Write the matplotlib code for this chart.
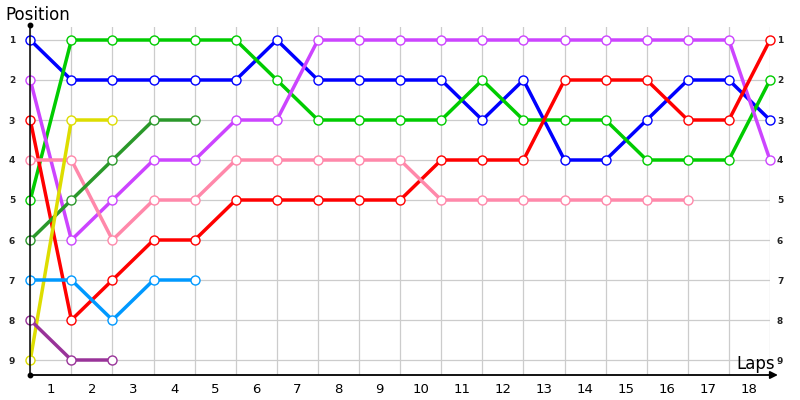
import matplotlib
matplotlib.use("Agg")
import matplotlib.pyplot as plt
import numpy as np

laps = list(range(19))
lap_labels = [str(i) for i in range(1, 19)]
positions = list(range(1, 10))

series = [
    ("#0000FF", [1, 2, 2, 2, 2, 2, 1, 2, 2, 2, 2, 3, 2, 4, 4, 3, 2, 2, 3]),
    ("#00CC00", [5, 1, 1, 1, 1, 1, 2, 3, 3, 3, 3, 2, 3, 3, 3, 4, 4, 4, 2]),
    ("#CC44FF", [2, 6, 5, 4, 4, 3, 3, 1, 1, 1, 1, 1, 1, 1, 1, 1, 1, 1, 4]),
    ("#FF0000", [3, 8, 7, 6, 6, 5, 5, 5, 5, 5, 4, 4, 4, 2, 2, 2, 3, 3, 1]),
    ("#FF88AA", [4, 4, 6, 5, 5, 4, 4, 4, 4, 4, 5, 5, 5, 5, 5, 5, 5]),
    ("#2A982A", [6, 5, 4, 3, 3]),
    ("#DDDD00", [9, 3, 3]),
    ("#0099FF", [7, 7, 8, 7, 7]),
    ("#993399", [8, 9, 9]),
]

W, H = 800, 400
fig = plt.figure(figsize=(8, 4), dpi=100)
x0, x1 = 30.3, 770.0
ytop, ybot = 27.0, 375.0
ax = fig.add_axes([x0 / W, 1 - ybot / H, (x1 - x0) / W, (ybot - ytop) / H])
ax.set_xlim(0, 18)
# pixel y = 40 + (pos-1)*40
ax.set_ylim((ybot - 40) / 40 + 1, (ytop - 40) / 40 + 1)

for s in ["top", "right", "left", "bottom"]:
    ax.spines[s].set_visible(False)

ax.set_xticks(laps, minor=True)
ax.set_xticks(np.arange(18) + 0.5)
ax.set_xticklabels(lap_labels, fontsize=9.5, family="DejaVu Sans")
ax.tick_params(axis="x", which="both", length=0, pad=6)
ax.set_yticks(positions)
ax.set_yticklabels([str(p) for p in positions], fontsize=6.5, fontweight="bold", color="#222222")
ax.tick_params(axis="y", length=0, pad=11)
ax.grid(True, which="minor", axis="x", color="#CCCCCC", linewidth=0.9)
ax.grid(True, which="major", axis="y", color="#CCCCCC", linewidth=0.9)
ax.set_axisbelow(True)

sec = ax.secondary_yaxis("right")
sec.set_yticks(positions)
sec.set_yticklabels([str(p) for p in positions], fontsize=6.5, fontweight="bold", color="#222222")
sec.tick_params(length=0, pad=5)
sec.spines["right"].set_visible(False)

for color, vals in series:
    ax.plot(laps[:len(vals)], vals, color=color, linewidth=2.5, zorder=3,
            solid_capstyle="round", solid_joinstyle="round")
for color, vals in series:
    ax.plot(laps[:len(vals)], vals, linestyle="none", marker="o", markersize=6.5,
            markerfacecolor="white", markeredgecolor=color, markeredgewidth=1.0,
            zorder=4, clip_on=False)

# axes lines
ylo, yhi = ax.get_ylim()
ax.plot([0, 0], [ylo, (25 - 40) / 40 + 1], color="black", linewidth=1.1, clip_on=False, zorder=5)
ax.plot([0], [(25 - 40) / 40 + 1], marker="o", markersize=3.2, color="black", clip_on=False, zorder=5)
ax.plot([0], [ylo], marker="o", markersize=3.2, color="black", clip_on=False, zorder=5)
ax.annotate("", xy=((778 - x0) / 41.1, ylo), xytext=(0, ylo),
            arrowprops=dict(arrowstyle="-|>", color="black", linewidth=1.3,
                            mutation_scale=11, shrinkA=0, shrinkB=0),
            annotation_clip=False, zorder=5)

fig.text(5 / W, 1 - 15 / H, "Position", fontsize=12, ha="left", va="center")
fig.text(775 / W, 1 - 364 / H, "Laps", fontsize=12, ha="right", va="center")

fig.savefig("out.png", dpi=100)
